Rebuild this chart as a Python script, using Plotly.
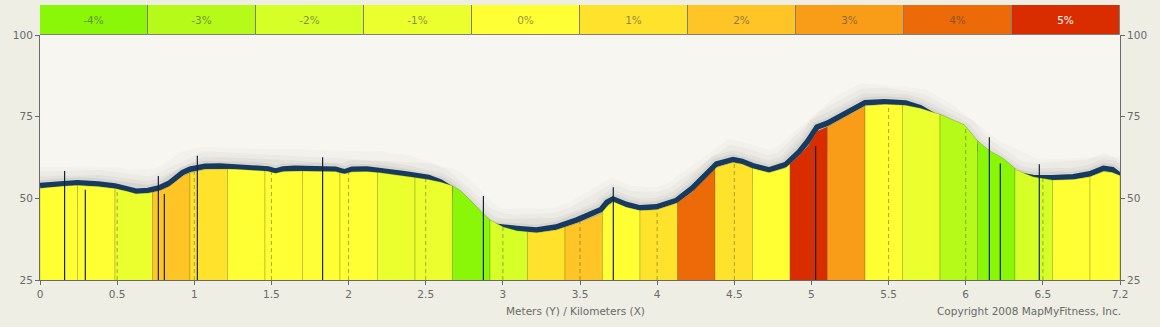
import numpy as np
import plotly.graph_objects as go

# ---------------- data ----------------
distance_km = [0.00, 0.16, 0.25, 0.39, 0.50, 0.58, 0.64, 0.72, 0.80, 0.86, 0.90, 0.95,
               1.00, 1.10, 1.20, 1.32, 1.45, 1.52, 1.57, 1.62, 1.70, 1.80, 1.90, 1.97,
               2.03, 2.08, 2.18, 2.26, 2.43, 2.59, 2.67, 2.74, 2.80, 2.87, 2.95, 3.00,
               3.09, 3.18, 3.31, 3.44, 3.58, 3.68, 3.74, 3.78, 3.82, 3.91, 4.00, 4.11,
               4.24, 4.35, 4.44, 4.51, 4.62, 4.68, 4.75, 4.86, 4.97, 5.06, 5.12, 5.18,
               5.25, 5.37, 5.50, 5.63, 5.77, 5.87, 6.00, 6.16, 6.24, 6.33, 6.42, 6.51,
               6.62, 6.75, 6.89, 7.00, 7.09, 7.15, 7.20]
elevation_m = [53.1, 53.8, 54.0, 53.6, 53.0, 52.2, 51.4, 51.6, 52.4, 53.6, 55.0, 56.8,
               57.8, 58.9, 59.1, 58.9, 58.6, 58.3, 57.7, 58.2, 58.4, 58.3, 58.3, 58.2,
               57.5, 58.1, 58.2, 57.9, 56.8, 55.8, 55.0, 54.0, 52.5, 49.4, 45.5, 43.4,
               41.2, 40.1, 39.5, 40.3, 42.4, 44.2, 45.3, 47.5, 49.0, 47.3, 46.3, 46.5,
               48.3, 52.0, 56.1, 59.5, 61.0, 60.5, 59.2, 57.9, 59.3, 63.0, 66.0, 70.5,
               71.9, 75.0, 78.3, 78.8, 78.5, 77.6, 75.7, 72.6, 68.0, 64.6, 62.3, 58.7,
               56.6, 55.6, 55.8, 56.6, 58.2, 57.9, 57.0]
raw_elevation_m = [53.9, 54.6, 54.8, 54.4, 53.8, 52.9, 52.2, 52.4, 53.3, 54.6, 56.1, 57.9,
                   58.9, 59.8, 59.9, 59.7, 59.4, 59.0, 58.3, 59.0, 59.2, 59.1, 59.1, 58.9,
                   58.1, 58.9, 59.0, 58.6, 57.5, 56.4, 55.0, 53.0, 50.5, 47.0, 43.3, 41.6,
                   41.0, 40.8, 40.3, 41.2, 43.4, 45.2, 46.6, 48.8, 49.8, 48.1, 47.1, 47.4,
                   49.3, 53.2, 57.3, 60.5, 61.9, 61.3, 60.0, 58.7, 60.3, 64.2, 67.6, 71.8,
                   73.0, 76.1, 79.3, 79.6, 79.2, 77.7, 74.2, 70.5, 65.8, 62.5, 60.3, 57.3,
                   56.4, 56.3, 56.6, 57.5, 59.2, 58.8, 57.0]

segment_edges_km = [0.0, 0.25, 0.5, 0.75, 1.0, 1.25, 1.5, 1.75, 2.0, 2.25, 2.5, 2.75,
                    3.0, 3.25, 3.5, 3.75, 4.0, 4.25, 4.5, 4.75, 5.0, 5.25, 5.5, 5.75,
                    6.0, 6.25, 6.5, 6.75, 7.0, 7.2]
segment_grade = [0, 0, -1, 2, 1, 0, 0, 0, 0, -1, -1, -4, -2, 1, 2, 0, 1, 4, 1, 0,
                 5, 3, 0, -1, -3, -4, -2, 0, 0]

grade_levels = [-4, -3, -2, -1, 0, 1, 2, 3, 4, 5]
grade_labels = ["-4%", "-3%", "-2%", "-1%", "0%", "1%", "2%", "3%", "4%", "5%"]
grade_colors = ["#8AF708", "#B5FA19", "#D5FF26", "#EAFF2D", "#FFFF33",
                "#FFE22B", "#FFC425", "#F99C18", "#EC6A07", "#D92D00"]
grade_text_colors = ["rgba(70,70,70,0.6)"] * 9 + ["#FFFFFF"]

marker_km = [0.164, 0.302, 0.789, 0.829, 1.049, 1.884, 2.956, 3.822, 5.171, 6.329, 6.402, 6.662]
marker_top_m = [58.4, 52.6, 56.8, 51.3, 63.0, 62.6, 50.7, 53.4, 66.0, 68.7, 60.7, 60.4]

x_tick_values = [0, 0.5, 1, 1.5, 2, 2.5, 3, 3.5, 4, 4.5, 5, 5.5, 6, 6.5, 7.0]
x_tick_text = ["0", "0.5", "1", "1.5", "2", "2.5", "3", "3.5", "4", "4.5", "5",
               "5.5", "6", "6.5", "7.2"]
y_tick_values = [25, 50, 75, 100]
Y_MIN, Y_MAX = 25, 100
TOTAL_KM = 7.2
AXIS_LABEL_SCALE = TOTAL_KM / x_tick_values[-1]  # chart labels run on a 0..7.0 scale

FONT = "DejaVu Sans"
AXIS_COLOR = "#6A6A6A"

color_of = dict(zip(grade_levels, grade_colors))
d = np.array(distance_km)
e = np.array(elevation_m)

fig = go.Figure()

# shadow around the raw-elevation line (bottom layer, axis y)
for w, a in [(38, 0.022), (28, 0.032), (18, 0.045), (11, 0.06)]:
    fig.add_trace(go.Scatter(x=distance_km, y=raw_elevation_m, mode="lines",
                             line=dict(color=f"rgba(40,40,30,{a})", width=w),
                             hoverinfo="skip", showlegend=False))
# dark blue line
fig.add_trace(go.Scatter(x=distance_km, y=raw_elevation_m, mode="lines",
                         line=dict(color="#173B60", width=5.5),
                         hoverinfo="skip", showlegend=False))

# coloured grade segments (overlay axis y2, drawn above the line)
for i, g in enumerate(segment_grade):
    a, b = segment_edges_km[i], segment_edges_km[i + 1]
    xs = [a] + [v for v in distance_km if a < v < b] + [b]
    ys = list(np.interp(xs, d, e))
    fig.add_trace(go.Scatter(x=[a] + xs + [b], y=[Y_MIN] + ys + [Y_MIN], yaxis="y2",
                             fill="toself", fillcolor=color_of[g], mode="lines",
                             line=dict(color="rgba(90,100,20,0.28)", width=1),
                             hoverinfo="skip", showlegend=False))

# dashed grid lines clipped to the profile
gx, gy = [], []
for t in x_tick_values[1:-1]:
    xv = t * AXIS_LABEL_SCALE
    gx += [xv, xv, None]
    gy += [Y_MIN, float(np.interp(xv, d, e)), None]
fig.add_trace(go.Scatter(x=gx, y=gy, mode="lines", yaxis="y2",
                         line=dict(color="rgba(100,100,60,0.55)", width=1, dash="4px,3px"),
                         hoverinfo="skip", showlegend=False))

# vertical marker lines
mx, my = [], []
for k, top in zip(marker_km, marker_top_m):
    mx += [k, k, None]
    my += [Y_MIN, top, None]
fig.add_trace(go.Scatter(x=mx, y=my, mode="lines", yaxis="y2",
                         line=dict(color="#14253A", width=1.2),
                         hoverinfo="skip", showlegend=False))

# grade legend bar
fig.add_trace(go.Bar(x=list(range(len(grade_levels))), y=[1] * len(grade_levels),
                     width=1, xaxis="x3", yaxis="y3",
                     marker=dict(color=grade_colors, line=dict(color="#80807A", width=1)),
                     text=grade_labels, textposition="inside", insidetextanchor="middle",
                     textangle=0,
                     textfont=dict(family=FONT, size=10.5, color=grade_text_colors),
                     hoverinfo="skip", showlegend=False))

main_top = 245 / 275

fig.update_layout(
    width=1160, height=327,
    margin=dict(l=40, r=40, t=5, b=47, autoexpand=False),
    paper_bgcolor="#EEEEE4",
    plot_bgcolor="#F7F6F0",
    font=dict(family=FONT, size=10.5, color=AXIS_COLOR),
    xaxis=dict(domain=[0, 1], range=[0, TOTAL_KM], anchor="y",
               tickvals=[t * AXIS_LABEL_SCALE for t in x_tick_values], ticktext=x_tick_text,
               ticks="outside", ticklen=4, tickcolor=AXIS_COLOR, showline=True,
               linecolor=AXIS_COLOR, linewidth=1, showgrid=False, zeroline=False,
               automargin=False,
               tickfont=dict(family=FONT, size=10.5, color=AXIS_COLOR)),
    yaxis=dict(domain=[0, main_top], range=[Y_MIN, Y_MAX], tickvals=y_tick_values,
               ticks="outside", ticklen=4, tickcolor=AXIS_COLOR, showline=True,
               linecolor=AXIS_COLOR, linewidth=1, showgrid=False, zeroline=False,
               automargin=False,
               tickfont=dict(family=FONT, size=10.5, color=AXIS_COLOR)),
    yaxis2=dict(overlaying="y", side="right", range=[Y_MIN, Y_MAX], tickvals=y_tick_values,
                ticks="outside", ticklen=4, tickcolor=AXIS_COLOR, showline=True,
                linecolor=AXIS_COLOR, linewidth=1, showgrid=False, zeroline=False,
                automargin=False,
                tickfont=dict(family=FONT, size=10.5, color=AXIS_COLOR)),
    xaxis3=dict(domain=[0, 1], range=[-0.5, len(grade_levels) - 0.5], anchor="y3",
                visible=False, fixedrange=True, automargin=False),
    yaxis3=dict(domain=[main_top, 1], range=[0, 1], anchor="x3", visible=False,
                fixedrange=True, automargin=False),
    bargap=0,
    annotations=[
        dict(text="Meters (Y) / Kilometers (X)", xref="paper", yref="paper",
             x=(575 - 40) / 1080, y=-31 / 275, xanchor="center", yanchor="middle",
             showarrow=False, font=dict(family=FONT, size=10.5, color=AXIS_COLOR)),
        dict(text="Copyright 2008 MapMyFitness, Inc.", xref="paper", yref="paper",
             x=1.003, y=-31 / 275, xanchor="right", yanchor="middle",
             showarrow=False, font=dict(family=FONT, size=10.5, color=AXIS_COLOR)),
    ],
)

fig.write_html("out.html")
